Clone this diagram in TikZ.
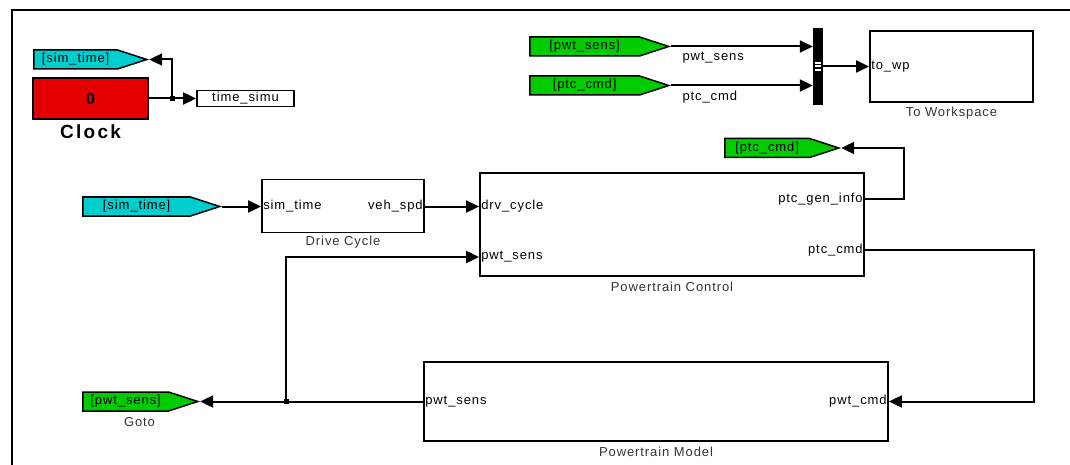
\documentclass[tikz,border=0pt]{standalone}
\usepackage{fontspec}
\newfontfamily\slk{Liberation Sans}[LetterSpace=7]
\newfontfamily\slkclock{Liberation Sans}[LetterSpace=12]
\usetikzlibrary{arrows.meta,shapes.symbols,positioning}

\definecolor{tagcyan}{RGB}{0,206,206}
\definecolor{taggreen}{RGB}{0,204,0}
\definecolor{clockred}{RGB}{228,0,0}

\tikzset{
  blk/.style={draw, line width=1.8pt, fill=white, inner sep=0pt},
  tag/.style={shape=signal, signal to=east, signal pointer angle=36, draw, line width=1.5pt,
    minimum height=19pt, inner xsep=2pt, inner ysep=0pt, anchor=west},
  cyantag/.style={tag, fill=tagcyan},
  greentag/.style={tag, fill=taggreen},
  port/.style={inner xsep=2pt, inner ysep=0pt},
  blkname/.style={text=black!80},
  wire/.style={line width=2pt},
  sig/.style={wire, -{Triangle[length=13pt,width=12pt]}},
  brdot/.style={fill, minimum size=5pt, inner sep=0pt},
}

\begin{document}
\begin{tikzpicture}[x=1pt,y=-1pt, every node/.style={font=\slk\fontsize{13}{15}\selectfont}]
  \useasboundingbox (0,0) rectangle (1070,465);
  % model frame
  \draw[line width=2.5pt] (12,465) -- (12,10) -- (1070,10);

  % Clock and time output
  \node[cyantag, minimum width=113pt] (simtagA) at (33,59.5) {[sim\_time]};
  \node[blk, fill=clockred, minimum width=115pt, minimum height=41pt,
    font=\slk\bfseries\fontsize{16}{18}\selectfont] (clock) at (90.5,98.5) {0};
  \node[font=\slkclock\bfseries\fontsize{19}{21}\selectfont] (clockname) at (90.5,132) {Clock};
  \node[blk, minimum width=97pt, minimum height=16pt] (timesimu) at (245.5,98.5) {time\_simu};
  \node[brdot] (clkbr) at (172,98.5) {};
  \draw[wire] (clock.east) -- (clkbr.center);
  \draw[sig] (clkbr.center) -- (timesimu.west);
  \draw[sig] (clkbr.center) |- (simtagA.east);

  % To Workspace
  \node[greentag, minimum width=139pt] (pwtA) at (529,46.5) {[pwt\_sens]};
  \node[greentag, minimum width=139pt] (ptcA) at (529,85.5) {[ptc\_cmd]};
  \node[fill, minimum width=10pt, minimum height=77pt, inner sep=0pt] (mux) at (818,66.5) {};
  \foreach \y in {62,65.5,69}
    \fill[white] (815,\y) rectangle (821,\y+2);
  \draw[sig] (pwtA.east) -- (pwtA.east -| mux.west);
  \draw[sig] (ptcA.east) -- (ptcA.east -| mux.west);
  \node[anchor=west] (lblpwt) at (679,58) {pwt\_sens};
  \node[anchor=west] (lblptc) at (679,97) {ptc\_cmd};
  \node[blk, minimum width=163pt, minimum height=71pt] (towks) at (951.5,66.5) {};
  \node[port, anchor=west] (towksin) at (towks.west) {to\_wp};
  \draw[sig] (mux.east) -- (towksin.west);
  \node[blkname] (towksname) at (951.5,113) {To Workspace};

  % Drive Cycle
  \node[cyantag, minimum width=137pt] (simtagB) at (82,206.5) {[sim\_time]};
  \node[blk, minimum width=162pt, minimum height=53pt] (drvcyc) at (343,206) {};
  \node[port, anchor=west] (dcin) at (drvcyc.west |- 0,206.5) {sim\_time};
  \node[port, anchor=east] (dcout) at (drvcyc.east |- 0,206.5) {veh\_spd};
  \node[blkname] (drvname) at (343,242) {Drive Cycle};
  \draw[sig] (simtagB.east) -- (dcin.west);

  % Powertrain Control
  \node[blk, minimum width=384pt, minimum height=103pt] (pctrl) at (672,224.5) {};
  \node[port, anchor=west] (pcin1) at (pctrl.west |- 0,206.5) {drv\_cycle};
  \node[port, anchor=west] (pcin2) at (pctrl.west |- 0,257) {pwt\_sens};
  \node[port, anchor=east] (pcout1) at (pctrl.east |- 0,199) {ptc\_gen\_info};
  \node[port, anchor=east] (pcout2) at (pctrl.east |- 0,250) {ptc\_cmd};
  \node[blkname] (pctrlname) at (672,287) {Powertrain Control};
  \draw[sig] (dcout.east) -- (pcin1.west);
  \node[greentag, minimum width=114pt] (ptcB) at (724,148) {[ptc\_cmd]};
  \draw[sig] (pcout1.east) -- ++(39,0) |- (ptcB.east);

  % Powertrain Model
  \node[blk, minimum width=464pt, minimum height=79pt] (pmodel) at (656,401.5) {};
  \node[port, anchor=west] (pmin) at (pmodel.west) {pwt\_sens};
  \node[port, anchor=east] (pmout) at (pmodel.east) {pwt\_cmd};
  \node[blkname] (pmodelname) at (656,452) {Powertrain Model};
  \draw[sig] (pcout2.east) -- ++(169,0) |- (pmout.east);

  % Goto
  \node[greentag, minimum width=115pt] (gototag) at (82,401.5) {[pwt\_sens]};
  \node[blkname] (gotoname) at (139.5,422) {Goto};
  \node[brdot] (sensbr) at (286,401.5) {};
  \draw[sig] (pmin.west) -- (gototag.east);
  \draw[sig] (sensbr.center) |- (pcin2.west);
\end{tikzpicture}
\end{document}
